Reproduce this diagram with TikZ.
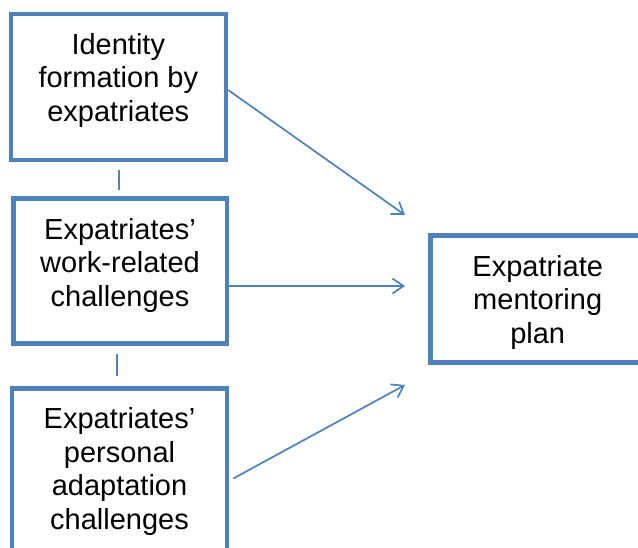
\documentclass[tikz,border=0pt]{standalone}
\usepackage{fontspec}
\setmainfont{Liberation Sans}
\usetikzlibrary{arrows.meta}
\definecolor{boxblue}{HTML}{4F81BD}
\tikzset{
  factor/.style={draw=boxblue, line width=4.6pt, fill=white, inner sep=0pt},
  boxtext/.style={align=center, text=black, inner sep=0pt},
  link/.style={draw=boxblue, line width=1.8pt},
  flow/.style={draw=boxblue, line width=1.7pt,
    -{Straight Barb[length=11pt, width=15pt, line width=1.7pt]}},
}
\begin{document}
\begin{tikzpicture}[x=1pt, y=-1pt, font=\fontsize{29pt}{33.6pt}\selectfont]
  \clip (0,0) rectangle (638,548);
  \useasboundingbox (0,0) rectangle (638,548);

  % influencing factors (left column)
  \node[factor, minimum width=215pt, minimum height=146pt,
        label={[boxtext, name=t1, yshift=6.8pt]center:Identity\\formation by\\expatriates}]
        (b1) at (118.3,87) {};
  \node[factor, minimum width=213.6pt, minimum height=145pt,
        label={[boxtext, name=t2, yshift=5.6pt]center:Expatriates’\\work-related\\challenges}]
        (b2) at (120,271) {};
  \node[factor, minimum width=215pt, minimum height=170pt,
        label={[boxtext, name=t3, yshift=2pt]center:Expatriates’\\personal\\adaptation\\challenges}]
        (b3) at (119.5,473.5) {};

  % outcome (right)
  \node[factor, minimum width=214.5pt, minimum height=127pt,
        label={[boxtext, name=t4, yshift=-3.5pt]center:Expatriate\\mentoring\\plan}]
        (b4) at (537.7,299) {};

  % short links between the stacked factors
  \draw[link] ([xshift=0.7pt, yshift=-8pt]b1.south) -- ([xshift=-1pt, yshift=6pt]b2.north);
  \draw[link] ([xshift=-3.3pt, yshift=-8pt]b2.south) -- ([xshift=-2.8pt, yshift=10pt]b3.north);

  % arrow ends in front of the outcome box
  \coordinate (e1) at (405,215);
  \coordinate (e2) at (405,286);
  \coordinate (e3) at (405,385);

  \draw[flow] ([yshift=-3pt]b1.east) -- (e1);
  \draw[flow] ([yshift=-15pt]b2.east) -- (e2);
  \draw[flow] ([xshift=4pt, yshift=-5pt]b3.east) -- (e3);
\end{tikzpicture}
\end{document}
